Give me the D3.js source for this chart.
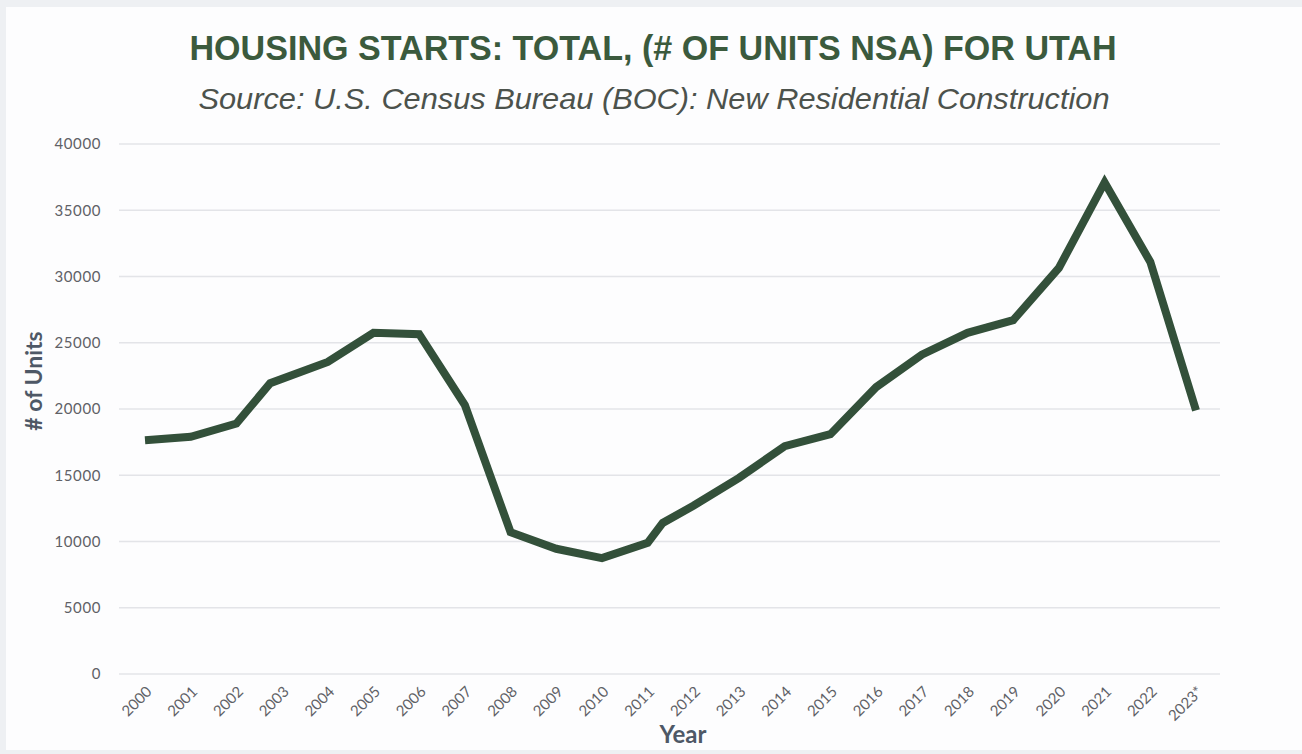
<!DOCTYPE html>
<html>
<head>
<meta charset="utf-8">
<script src="https://cdn.jsdelivr.net/npm/d3@7"></script>
<style>
  html, body { margin: 0; padding: 0; background: #eef0f3; }
  svg { display: block; }
</style>
</head>
<body>
<div id="chart"></div>
<script>
// year positions (index from 2000; a few in-between points follow the drawn line)
var yearPos = [0, 1, 2, 2.74, 4, 5, 6, 7, 8, 9, 10, 11, 11.33, 12, 13, 14, 15, 16, 17, 18, 19, 20, 21, 22, 23];
var units   = [17650, 17900, 18900, 21950, 23550, 25750, 25650, 20300, 10700, 9450, 8750, 9900, 11400, 12700, 14800, 17200, 18100, 21650, 24100, 25750, 26700, 30650, 37100, 31100, 19900];
var yearLabels = ["2000","2001","2002","2003","2004","2005","2006","2007","2008","2009","2010","2011",
                  "2012","2013","2014","2015","2016","2017","2018","2019","2020","2021","2022","2023*"];
var yTicks = [0, 5000, 10000, 15000, 20000, 25000, 30000, 35000, 40000];

var width = 1302,
    height = 754;

var svg = d3.select("#chart").append("svg")
    .attr("width", width)
    .attr("height", height);

// white card
svg.append("rect")
    .attr("x", 6).attr("y", 7)
    .attr("width", width - 6).attr("height", 743)
    .attr("fill", "#fdfdfe");

var x = d3.scaleLinear().domain([0, 23]).range([145, 1196]);
var y = d3.scaleLinear().domain([0, 40000]).range([674, 144]);

// gridlines
svg.append("g").selectAll("line")
    .data(yTicks)
  .enter().append("line")
    .attr("x1", 119).attr("x2", 1220)
    .attr("y1", function(d) { return y(d); })
    .attr("y2", function(d) { return y(d); })
    .attr("stroke", "#e3e4e8")
    .attr("stroke-width", 1.5);

// y axis labels
var yAxis = d3.axisLeft(y).tickValues(yTicks).tickSize(0).tickPadding(0)
    .tickFormat(function(d) { return d; });
var gy = svg.append("g").attr("transform", "translate(101,0)").call(yAxis);
gy.select(".domain").remove();
gy.selectAll("text")
    .attr("fill", "#5f6166")
    .style("font-family", "Lato, 'Open Sans', sans-serif")
    .style("font-size", "15px")
    .style("letter-spacing", "0.6px");

// x axis labels, rotated
var gx = svg.append("g");
gx.selectAll("text")
    .data(yearLabels)
  .enter().append("text")
    .attr("transform", function(d, i) { return "translate(" + (x(i) + 4) + ",689) rotate(-45)"; })
    .attr("text-anchor", "end")
    .attr("dy", "0.35em")
    .attr("fill", "#5f6166")
    .style("font-family", "Lato, 'Open Sans', sans-serif")
    .style("font-size", "15px")
    .text(function(d) { return d; });

// the line
var pts = yearPos.map(function(d, i) { return [d, units[i]]; });
var line = d3.line()
    .x(function(d) { return x(d[0]); })
    .y(function(d) { return y(d[1]); });

svg.append("path")
    .datum(pts)
    .attr("d", line)
    .attr("fill", "none")
    .attr("stroke", "#33503a")
    .attr("stroke-width", 8)
    .attr("stroke-linejoin", "miter")
    .attr("stroke-linecap", "butt");

// titles
svg.append("text")
    .attr("x", 653).attr("y", 60)
    .attr("text-anchor", "middle")
    .attr("textLength", 927)
    .attr("lengthAdjust", "spacingAndGlyphs")
    .attr("fill", "#3b5a3d")
    .style("font-family", "'Liberation Sans Narrow', 'Liberation Sans', Arial, sans-serif")
    .style("font-weight", "bold")
    .style("font-size", "35px")
    .text("HOUSING STARTS: TOTAL, (# OF UNITS NSA) FOR UTAH");

svg.append("text")
    .attr("x", 654).attr("y", 109)
    .attr("text-anchor", "middle")
    .attr("textLength", 911)
    .attr("lengthAdjust", "spacingAndGlyphs")
    .attr("fill", "#4c524c")
    .style("font-family", "'Liberation Sans Narrow', 'Liberation Sans', Arial, sans-serif")
    .style("font-style", "italic")
    .style("font-size", "29px")
    .text("Source: U.S. Census Bureau (BOC): New Residential Construction");

// axis titles
svg.append("text")
    .attr("transform", "translate(42,381) rotate(-90)")
    .attr("text-anchor", "middle")
    .attr("fill", "#4e5866")
    .style("font-family", "Lato, 'Open Sans', sans-serif")
    .style("font-weight", "bold")
    .style("font-size", "23px")
    .text("# of Units");

svg.append("text")
    .attr("x", 683).attr("y", 743)
    .attr("text-anchor", "middle")
    .attr("fill", "#4e5866")
    .style("font-family", "Lato, 'Open Sans', sans-serif")
    .style("font-weight", "bold")
    .style("font-size", "24px")
    .text("Year");
</script>
</body>
</html>
